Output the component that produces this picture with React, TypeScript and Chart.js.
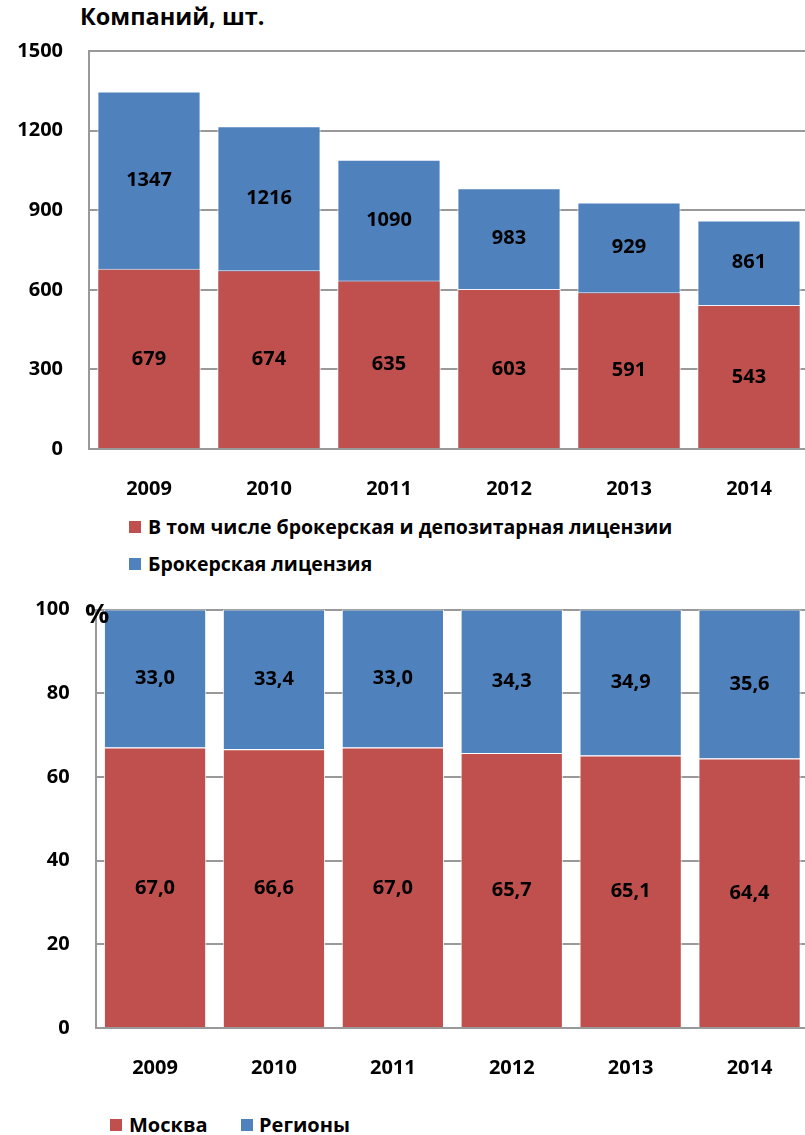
import React, { useEffect, useRef } from "react";
import { Chart, registerables } from "chart.js";

Chart.register(...registerables);

// ---- Data ----
const years = ["2009", "2010", "2011", "2012", "2013", "2014"];
const brokerDepo = [679, 674, 635, 603, 591, 543];
const brokerTotal = [1347, 1216, 1090, 983, 929, 861];
const topTicks = [0, 300, 600, 900, 1200, 1500];

const moscow = [67.0, 66.6, 67.0, 65.7, 65.1, 64.4];
const regions = [33.0, 33.4, 33.0, 34.3, 34.9, 35.6];
const pctTicks = [0, 20, 40, 60, 80, 100];

const topTitle = "Компаний, шт.";
const topLegend = ["В том числе брокерская и депозитарная лицензии", "Брокерская лицензия"];
const bottomLegend = ["Москва", "Регионы"];
const pctUnit = "%";

// ---- Styles ----
const RED = "#C0504D";
const BLUE = "#4F81BD";
const GRID = "#999999";
const FONT = "'Open Sans', sans-serif";

const fmtComma = (v: number) => v.toFixed(1).replace(".", ",");

function makeScales(ticks: number[], yWidth: number, stacked: boolean) {
  return {
    x: {
      stacked,
      grid: { display: false, drawTicks: false },
      border: { display: true, color: GRID, width: 2 },
      ticks: { color: "#000", font: { family: FONT, size: 20, weight: "bold" as const }, padding: 28 },
      afterFit: (s: any) => {
        s.height = 52;
      },
    },
    y: {
      stacked,
      min: ticks[0],
      max: ticks[ticks.length - 1],
      afterBuildTicks: (s: any) => {
        s.ticks = ticks.map((v) => ({ value: v }));
      },
      grid: { color: GRID, lineWidth: 2, drawTicks: false },
      border: { display: true, color: GRID, width: 2 },
      ticks: {
        color: "#000",
        font: { family: FONT, size: 20, weight: "bold" as const },
        padding: 26,
        callback: (v: any) => String(v),
      },
      afterFit: (s: any) => {
        s.width = yWidth;
      },
    },
  };
}

const topLabelsPlugin = {
  id: "topLabels",
  afterDatasetsDraw(chart: any) {
    const ctx = chart.ctx;
    const y = chart.scales.y;
    const meta = chart.getDatasetMeta(0);
    ctx.save();
    ctx.font = `bold 20px ${FONT}`;
    ctx.fillStyle = "#000";
    ctx.textAlign = "center";
    ctx.textBaseline = "middle";
    meta.data.forEach((bar: any, i: number) => {
      const r = brokerDepo[i];
      const b = brokerTotal[i];
      ctx.fillText(String(r), bar.x, y.getPixelForValue(r / 2));
      ctx.fillText(String(b), bar.x, (y.getPixelForValue(r) + y.getPixelForValue(b)) / 2);
    });
    ctx.restore();
  },
};

const bottomLabelsPlugin = {
  id: "bottomLabels",
  afterDatasetsDraw(chart: any) {
    const ctx = chart.ctx;
    const y = chart.scales.y;
    const meta = chart.getDatasetMeta(0);
    ctx.save();
    ctx.font = `bold 20px ${FONT}`;
    ctx.fillStyle = "#000";
    ctx.textAlign = "center";
    ctx.textBaseline = "middle";
    meta.data.forEach((bar: any, i: number) => {
      const m = moscow[i];
      const r = regions[i];
      ctx.fillText(fmtComma(m), bar.x, y.getPixelForValue(m / 2));
      ctx.fillText(fmtComma(r), bar.x, y.getPixelForValue(m + r / 2));
    });
    ctx.restore();
  },
};

function TopChart() {
  const ref = useRef<HTMLCanvasElement | null>(null);
  useEffect(() => {
    if (!ref.current) return;
    const chart = new Chart(ref.current, {
      type: "bar",
      data: {
        labels: years,
        datasets: [
          {
            label: topLegend[0],
            data: brokerDepo,
            backgroundColor: RED,
            borderColor: "rgba(255,255,255,0.9)",
            borderWidth: 1,
            grouped: false,
            barPercentage: 0.86,
            categoryPercentage: 1,
          } as any,
          {
            label: topLegend[1],
            data: brokerTotal,
            backgroundColor: BLUE,
            borderColor: "rgba(255,255,255,0.9)",
            borderWidth: 1,
            grouped: false,
            barPercentage: 0.86,
            categoryPercentage: 1,
          } as any,
        ],
      },
      options: {
        responsive: false,
        animation: false,
        layout: { padding: { top: 51, left: 0, right: 0, bottom: 0 } },
        plugins: { legend: { display: false }, tooltip: { enabled: false } },
        scales: makeScales(topTicks, 89, false) as any,
      },
      plugins: [topLabelsPlugin],
    });
    return () => chart.destroy();
  }, []);
  return (
    <canvas
      ref={ref}
      width={809}
      height={501}
      style={{ position: "absolute", left: 0, top: 0, width: 809, height: 501, display: "block" }}
    />
  );
}

const BOTTOM_TOP = 570;

function BottomChart() {
  const ref = useRef<HTMLCanvasElement | null>(null);
  useEffect(() => {
    if (!ref.current) return;
    const chart = new Chart(ref.current, {
      type: "bar",
      data: {
        labels: years,
        datasets: [
          {
            label: bottomLegend[0],
            data: moscow,
            backgroundColor: RED,
            borderColor: "rgba(255,255,255,0.9)",
            borderWidth: 1,
            barPercentage: 0.86,
            categoryPercentage: 1,
          } as any,
          {
            label: bottomLegend[1],
            data: regions,
            backgroundColor: BLUE,
            borderColor: "rgba(255,255,255,0.9)",
            borderWidth: 1,
            barPercentage: 0.86,
            categoryPercentage: 1,
          } as any,
        ],
      },
      options: {
        responsive: false,
        animation: false,
        layout: { padding: { top: 609.5 - BOTTOM_TOP, left: 0, right: 0, bottom: 0 } },
        plugins: { legend: { display: false }, tooltip: { enabled: false } },
        scales: makeScales(pctTicks, 95.6, true) as any,
      },
      plugins: [bottomLabelsPlugin],
    });
    return () => chart.destroy();
  }, []);
  const h = 1028 - BOTTOM_TOP + 52;
  return (
    <canvas
      ref={ref}
      width={809}
      height={h}
      style={{ position: "absolute", left: 0, top: BOTTOM_TOP, width: 809, height: h, display: "block" }}
    />
  );
}

const textStyle = (left: number, centerY: number, size: number, lh = 30): React.CSSProperties => ({
  position: "absolute",
  left,
  top: centerY - lh / 2,
  height: lh,
  lineHeight: `${lh}px`,
  fontFamily: FONT,
  fontWeight: "bold",
  fontSize: size,
  color: "#000",
  whiteSpace: "nowrap",
  margin: 0,
});

const square = (left: number, top: number, color: string): React.CSSProperties => ({
  position: "absolute",
  left,
  top,
  width: 12,
  height: 12,
  background: color,
});

export default function App() {
  return (
    <div
      style={{
        position: "fixed",
        left: 0,
        top: 0,
        width: 805,
        height: 1135,
        overflow: "hidden",
        background: "#fff",
      }}
    >
      <div style={textStyle(80, 16, 23.5)}>{topTitle}</div>
      <TopChart />
      <div style={square(129, 521, RED)} />
      <div style={textStyle(148, 527, 19.5)}>{topLegend[0]}</div>
      <div style={square(129, 558, BLUE)} />
      <div style={textStyle(148, 564, 19.5)}>{topLegend[1]}</div>

      <BottomChart />
      <div style={textStyle(85, 613, 27)}>{pctUnit}</div>
      <div style={square(110, 1119, RED)} />
      <div style={textStyle(129, 1125, 20)}>{bottomLegend[0]}</div>
      <div style={square(241, 1119, BLUE)} />
      <div style={textStyle(259, 1125, 20)}>{bottomLegend[1]}</div>
    </div>
  );
}
